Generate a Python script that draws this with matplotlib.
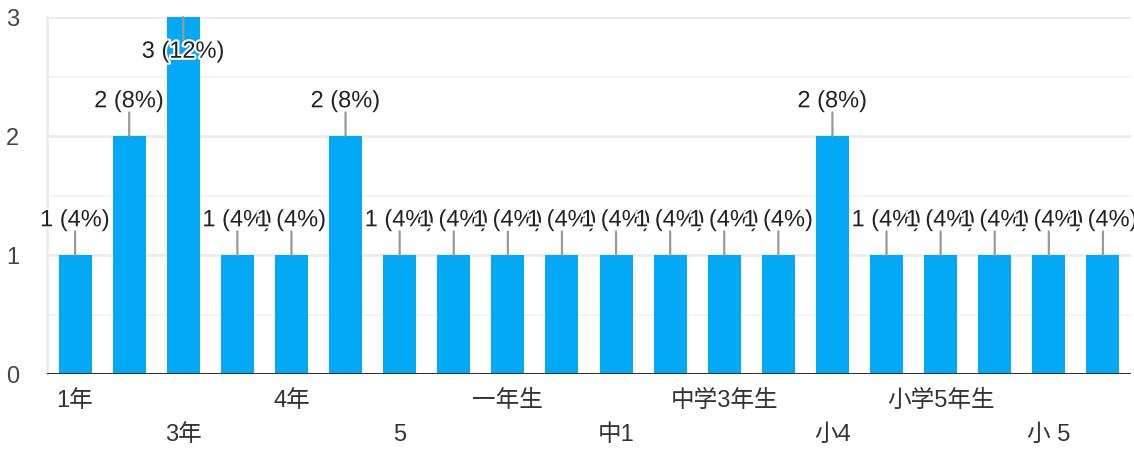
import matplotlib.pyplot as plt
import matplotlib.patheffects as pe
from matplotlib.transforms import blended_transform_factory
import numpy as np

plt.rcParams['font.family'] = ['Liberation Sans', 'Noto Sans CJK JP']

# only every other category label is shown in the original chart
categories = ['1年', '', '3年', '', '4年', '', '5', '', '一年生', '',
              '中1', '', '中学3年生', '', '小4', '', '小学5年生', '', '小 5', '']
counts = [1, 2, 3, 1, 1, 2, 1, 1, 1, 1, 1, 1, 1, 1, 2, 1, 1, 1, 1, 1]
total = sum(counts)

fig = plt.figure(figsize=(11.34, 4.49), dpi=100)
ax = fig.add_axes([0.0414, 0.167, 0.9560, 0.7951])

x = np.arange(len(counts))
ax.bar(x, counts, width=0.61, color='#03a9f4', zorder=2)

ax.set_xlim(-0.52, len(counts) - 0.48)
ax.set_ylim(0, 3)

# grid
for v in [0.5, 1.5, 2.5]:
    ax.axhline(v, color='#f4f4f4', lw=1.5, zorder=0)
for v in [1, 2, 3]:
    ax.axhline(v, color='#ebebeb', lw=2, zorder=0)
ax.axhline(0, color='#333333', lw=2.2, zorder=3)

for s in ['top', 'right', 'bottom']:
    ax.spines[s].set_visible(False)
ax.spines['left'].set_color('#ebebeb')
ax.spines['left'].set_linewidth(2)

ax.set_yticks([0, 1, 2, 3])
ax.set_yticklabels(['0', '1', '2', '3'])
ax.tick_params(axis='y', length=0, labelsize=17, labelcolor='#444444', pad=20)
ax.set_xticks([])

# category labels in two staggered rows
trans = blended_transform_factory(ax.transData, ax.transAxes)
for i, lab in enumerate(categories):
    if not lab:
        continue
    dy = -19.5 if (i // 2) % 2 == 0 else -44
    ax.annotate(lab, xy=(i, 0), xycoords=trans, xytext=(0, dy),
                textcoords='offset points', ha='center', va='center',
                fontsize=17, color='#333333')

# value callouts
ymax = ax.get_ylim()[1]
halo = [pe.withStroke(linewidth=3, foreground='white')]
for i, c in enumerate(counts):
    txt = f"{c} ({c / total * 100:.0f}%)"
    sign = -1 if c >= ymax else 1
    ax.annotate('', xy=(i, c), xytext=(0, sign * 17), textcoords='offset points',
                arrowprops=dict(arrowstyle='-', color='#999999', lw=1.6,
                                shrinkA=0, shrinkB=0), zorder=4)
    ax.annotate(txt, xy=(i, c), xytext=(0, sign * 25), textcoords='offset points',
                ha='center', va='center', fontsize=17, color='#222222',
                path_effects=halo, zorder=5, annotation_clip=False)

fig.savefig('out.png', dpi=100)
